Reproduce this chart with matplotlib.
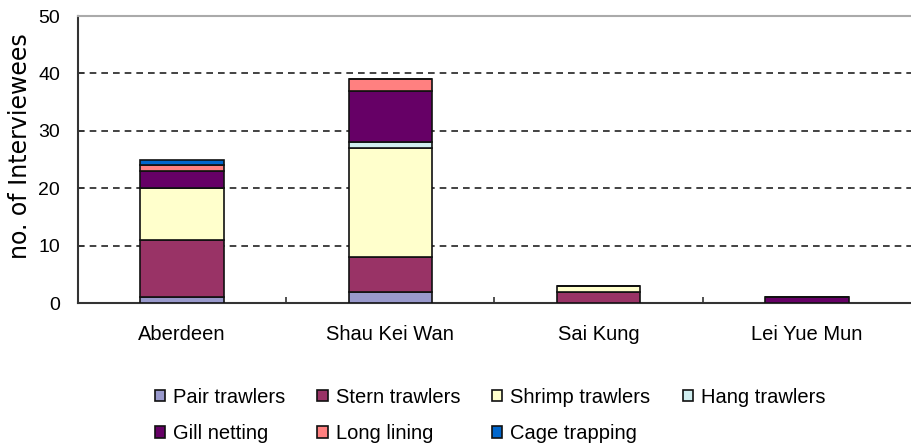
import numpy as np
import matplotlib
matplotlib.use('Agg')
from matplotlib import pyplot as plt
from matplotlib.patches import Patch

plt.rcParams['font.family'] = ['Liberation Sans', 'DejaVu Sans']

# Data
ports = ['Aberdeen', 'Shau Kei Wan', 'Sai Kung', 'Lei Yue Mun']
pair_trawlers = [1, 2, 0, 0]
stern_trawlers = [10, 6, 2, 0]
shrimp_trawlers = [9, 19, 1, 0]
hang_trawlers = [0, 1, 0, 0]
gill_netting = [3, 9, 0, 1]
long_lining = [1, 2, 0, 0]
cage_trapping = [1, 0, 0, 0]

series = [
    ('Pair trawlers', pair_trawlers, '#9999cc'),
    ('Stern trawlers', stern_trawlers, '#993366'),
    ('Shrimp trawlers', shrimp_trawlers, '#ffffcc'),
    ('Hang trawlers', hang_trawlers, '#d0eef0'),
    ('Gill netting', gill_netting, '#660066'),
    ('Long lining', long_lining, '#ff8080'),
    ('Cage trapping', cage_trapping, '#0066cc'),
]

fig = plt.figure(figsize=(9.11, 4.46), dpi=100)
ax = fig.add_axes([0.0856, 0.3206, 0.9144, 0.6435])

x = np.arange(len(ports))
bottom = np.zeros(len(ports))
handles = {}
for name, vals, col in series:
    vals = np.array(vals, dtype=float)
    ax.bar(x, vals, width=0.4, bottom=bottom, color=col, edgecolor='#111111',
           linewidth=1.2, zorder=3)
    handles[name] = Patch(facecolor=col, edgecolor='#111111', linewidth=1.2)
    bottom += vals

ax.set_xlim(-0.5, 3.5)
ax.set_ylim(0, 50)
ax.set_yticks([0, 10, 20, 30, 40, 50])
ax.set_xticks(x)
ax.set_xticklabels(ports, fontsize=14.5)
ax.set_xticks([0.5, 1.5, 2.5], minor=True)
ax.tick_params(axis='x', which='major', length=0, pad=16)
ax.tick_params(axis='x', which='minor', direction='in', length=4, width=1.2, color='#333333')
ax.tick_params(axis='y', direction='in', length=4, width=1.2, color='#333333',
               labelsize=14, pad=13)

for yv in [10, 20, 30, 40]:
    ax.axhline(yv, color='#222222', linestyle=(0, (4, 3)), linewidth=1.2, zorder=1)

ax.spines['right'].set_visible(False)
ax.spines['top'].set_color('#aaaaaa')
ax.spines['top'].set_linewidth(1.5)
ax.spines['left'].set_color('#333333')
ax.spines['left'].set_linewidth(1.5)
ax.spines['bottom'].set_color('#333333')
ax.spines['bottom'].set_linewidth(1.5)

ax.set_ylabel('no. of Interviewees', fontsize=17, family='DejaVu Sans')
ax.yaxis.set_label_coords(-0.055, 0.547)

# row-major order for the two-row legend
order = ['Pair trawlers', 'Gill netting', 'Stern trawlers', 'Long lining',
         'Shrimp trawlers', 'Cage trapping', 'Hang trawlers']
fig.legend([handles[n] for n in order], order, loc='upper center',
           bbox_to_anchor=(0.538, 0.153), ncol=4, frameon=False, fontsize=14.5,
           handlelength=0.5, handleheight=0.5, handletextpad=0.4,
           columnspacing=1.6, labelspacing=0.85, borderpad=0)

fig.savefig('out.png', dpi=100)
